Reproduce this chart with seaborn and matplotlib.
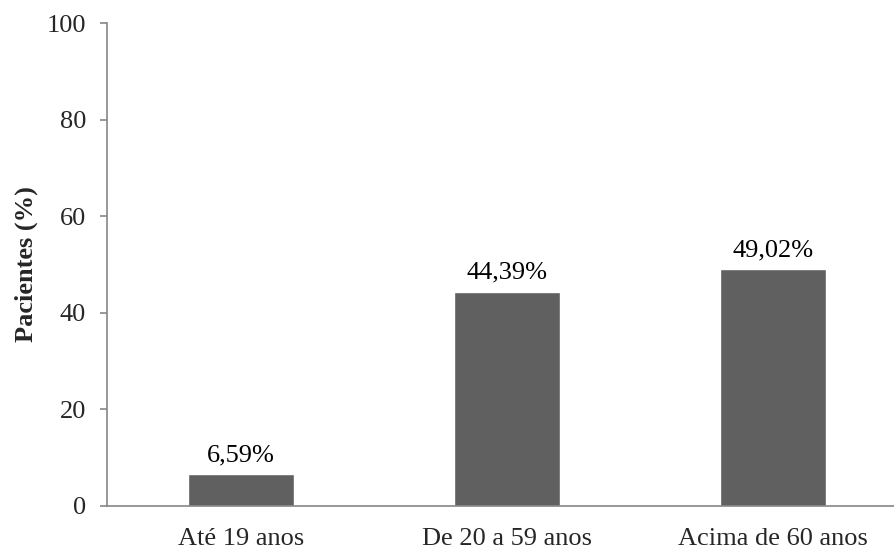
import pandas as pd
import matplotlib.pyplot as plt
import seaborn as sns

categorias = ['Até 19 anos', 'De 20 a 59 anos', 'Acima de 60 anos']
pacientes = [6.59, 44.39, 49.02]
rotulos = ['6,59%', '44,39%', '49,02%']

df = pd.DataFrame({'faixa': categorias, 'pct': pacientes})

sns.set_theme(style="white")
plt.rcParams['font.family'] = ['Liberation Serif', 'DejaVu Serif']

fig = plt.figure(figsize=(8.94, 5.52), dpi=100)
ax = fig.add_axes([107 / 894, 46 / 552, 1 - 107 / 894, 483 / 552])

sns.barplot(data=df, x='faixa', y='pct', color='#606060', saturation=1,
            width=0.4, ax=ax)

for i, (v, r) in enumerate(zip(pacientes, rotulos)):
    ax.annotate(r, (i, v), xytext=(0, 13), textcoords='offset pixels',
                ha='center', va='baseline', fontsize=19, color='black')

ax.set_ylim(0, 100)
ax.set_xlim(-0.504, 2.455)
ax.set_yticks([0, 20, 40, 60, 80, 100])
ax.set_xlabel('')
ax.set_ylabel('Pacientes (%)', fontsize=19, fontweight='bold', labelpad=6.5)
ax.tick_params(axis='y', left=True, length=5, color='#868686', width=1.2,
               labelsize=19, pad=10)
ax.tick_params(axis='x', bottom=False, labelsize=19, pad=10)
sns.despine(ax=ax, top=True, right=True)
for s in ['left', 'bottom']:
    ax.spines[s].set_color('#868686')
    ax.spines[s].set_linewidth(1.2)

plt.savefig('out.png', dpi=100)
